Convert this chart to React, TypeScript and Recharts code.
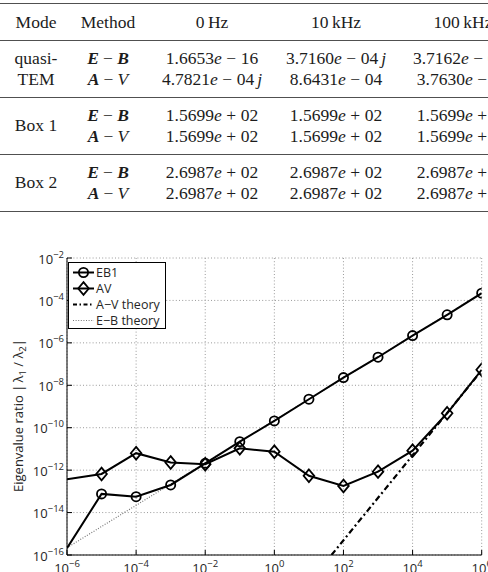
import React from "react";
import { LineChart, Line, XAxis, YAxis, CartesianGrid, Legend } from "recharts";

// ---------------- table data ----------------
const tableHeaders = ["Mode", "Method", "0\u2009Hz", "10\u2009kHz", "100\u2009kHz"];
const modeLabels = [["quasi-", "TEM"], ["Box 1"], ["Box 2"]];
const methodLabels = ["E-B", "A-V"];
const quasiTemEB = ["1.6653e-16", "3.7160e-04j", "3.7162e-03j"];
const quasiTemAV = ["4.7821e-04j", "8.6431e-04", "3.7630e-03"];
const box1EB = ["1.5699e+02", "1.5699e+02", "1.5699e+02"];
const box1AV = ["1.5699e+02", "1.5699e+02", "1.5699e+02"];
const box2EB = ["2.6987e+02", "2.6987e+02", "2.6987e+02"];
const box2AV = ["2.6987e+02", "2.6987e+02", "2.6987e+02"];

// ---------------- chart data ----------------
const freqs = [1e-6, 1e-5, 1e-4, 1e-3, 1e-2, 1e-1, 1e0, 1e1, 1e2, 1e3, 1e4, 1e5, 1e6];
const eb1Ratio = [2.1e-16, 7.6e-14, 5.6e-14, 2.0e-13, 2.1e-12, 2.2e-11, 2.1e-10, 2.2e-9, 2.3e-8, 2.1e-7, 2.2e-6, 2.1e-5, 2.2e-4];
const avRatio = [3.7e-13, 6.6e-13, 6.3e-12, 2.3e-12, 1.9e-12, 1.07e-11, 7.4e-12, 5.4e-13, 1.8e-13, 8.5e-13, 8.3e-12, 4.8e-10, 5.4e-8];
const avTheoryFreqs = [45, 1e6];
const avTheoryRatio = [1e-16, 5.0e-8];
const ebTheoryFreqs = [1e-6, 1e6];
const ebTheoryRatio = [2.2e-16, 2.2e-4];
const xTicks = [1e-6, 1e-4, 1e-2, 1e0, 1e2, 1e4, 1e6];
const yTicks = [1e-16, 1e-14, 1e-12, 1e-10, 1e-8, 1e-6, 1e-4, 1e-2];
const seriesNames = ["EB1", "AV", "A\u2212V theory", "E\u2212B theory"];

const toRows = (xs: number[], ys: number[]) => xs.map((f, i) => ({ freq: f, ratio: ys[i] }));
const eb1Data = toRows(freqs, eb1Ratio);
const avData = toRows(freqs, avRatio);
const avTheoryData = toRows(avTheoryFreqs, avTheoryRatio);
const ebTheoryData = toRows(ebTheoryFreqs, ebTheoryRatio);

const X_DOMAIN: [number, number] = [1e-6, 1e6];
const Y_DOMAIN: [number, number] = [1e-16, 1e-2];

const SANS = "'Open Sans', 'DejaVu Sans', sans-serif";
const SERIF = "'Liberation Serif', 'DejaVu Serif', serif";
const TXT = "#262626";

const fmtExp = (v: number) => {
  const e = Math.round(Math.log10(v));
  return e < 0 ? "\u2212" + Math.abs(e) : String(e);
};

// ---------------- table rendering ----------------
const colWidths = [72, 72, 136, 112, 142];

function MathNum({ s }: { s: string }) {
  const m = s.match(/^([\d.]+)e([+-])(\d+)(j?)$/);
  if (!m) return <span>{s}</span>;
  const [, mant, sign, exp, j] = m;
  return (
    <span style={{ whiteSpace: "nowrap" }}>
      {mant}
      <i>e</i>
      <span style={{ padding: "0 0.26em" }}>{sign === "-" ? "\u2212" : "+"}</span>
      {exp}
      {j ? <i style={{ marginLeft: "0.17em" }}>j</i> : null}
    </span>
  );
}

function MethodLabel({ s }: { s: string }) {
  const [a, b] = s.split("-");
  const st = (c: string): React.CSSProperties =>
    c === "V" ? { fontStyle: "italic" } : { fontStyle: "italic", fontWeight: "bold" };
  return (
    <span style={{ whiteSpace: "nowrap" }}>
      <span style={st(a)}>{a}</span>
      <span style={{ padding: "0 0.24em" }}>{"\u2212"}</span>
      <span style={st(b)}>{b}</span>
    </span>
  );
}

const groups = [
  { mode: modeLabels[0], rows: [quasiTemEB, quasiTemAV] },
  { mode: modeLabels[1], rows: [box1EB, box1AV] },
  { mode: modeLabels[2], rows: [box2EB, box2AV] },
];

const RULE = "1.6px solid #505050";

function Table() {
  const cell = (w: number, content: React.ReactNode, key: string) => (
    <div
      key={key}
      style={{
        width: w,
        flex: "none",
        display: "flex",
        flexDirection: "column",
        alignItems: "center",
        justifyContent: "center",
        lineHeight: "20.5px",
      }}
    >
      {content}
    </div>
  );
  return (
    <div style={{ position: "absolute", left: 0, top: 0, width: 560, fontFamily: SERIF, fontSize: 17.5, color: "#1c1c1c" }}>
      <div style={{ position: "absolute", left: 0, top: 3, width: 560, borderTop: RULE }} />
      <div style={{ position: "absolute", left: 0, top: 4, height: 36, display: "flex" }}>
        {tableHeaders.map((h, i) => cell(colWidths[i], <span>{h}</span>, "h" + i))}
      </div>
      {groups.map((g, gi) => (
        <div
          key={gi}
          style={{
            position: "absolute",
            left: 0,
            top: 39.5 + gi * 57,
            height: 57,
            width: 560,
            borderTop: RULE,
            display: "flex",
            boxSizing: "border-box",
          }}
        >
          {cell(colWidths[0], g.mode.map((t, k) => <div key={k}>{t}</div>), "m")}
          {cell(colWidths[1], methodLabels.map((t, k) => <div key={k}><MethodLabel s={t} /></div>), "me")}
          {[0, 1, 2].map((c) =>
            cell(
              colWidths[c + 2],
              g.rows.map((r, k) => (
                <div key={k}>
                  <MathNum s={r[c]} />
                </div>
              )),
              "c" + c
            )
          )}
        </div>
      ))}
      <div style={{ position: "absolute", left: 0, top: 210.5, width: 560, borderTop: RULE }} />
    </div>
  );
}

// ---------------- chart pieces ----------------
const LeftTick = (props: any) => {
  const { x, y, payload } = props;
  return (
    <g>
      <line x1={x} x2={x + 5} y1={y} y2={y} stroke="#000" strokeWidth={1} />
      <text x={x - 3} y={y + 5.5} textAnchor="end" fontSize={13} fill={TXT} fontFamily={SANS}>
        10
        <tspan dy={-6} fontSize={9.5}>
          {fmtExp(payload.value)}
        </tspan>
      </text>
    </g>
  );
};

const RightTick = (props: any) => {
  const { x, y } = props;
  return <line x1={x} x2={x - 5} y1={y} y2={y} stroke="#000" strokeWidth={1} />;
};

const TopTick = (props: any) => {
  const { x, y } = props;
  return <line x1={x} x2={x} y1={y} y2={y + 5} stroke="#000" strokeWidth={1} />;
};

const BottomTick = (props: any) => {
  const { x, y, payload } = props;
  return (
    <g>
      <line x1={x} x2={x} y1={y} y2={y - 5} stroke="#000" strokeWidth={1} />
      <text x={x} y={y + 18} textAnchor="middle" fontSize={13} fill={TXT} fontFamily={SANS}>
        10
        <tspan dy={-6} fontSize={9.5}>
          {fmtExp(payload.value)}
        </tspan>
      </text>
    </g>
  );
};

const YLabel = (props: any) => {
  const vb = props.viewBox || { x: 0, y: 18, width: 67, height: 297 };
  const cy = vb.y + vb.height / 2 + 9;
  const cx = 23;
  return (
    <text
      x={cx}
      y={cy}
      transform={`rotate(-90 ${cx} ${cy})`}
      textAnchor="middle"
      fontSize={13}
      fill={TXT}
      fontFamily={SANS}
    >
      Eigenvalue ratio |{"\u2009"}λ
      <tspan dy={3} fontSize={9.5}>1</tspan>
      <tspan dy={-3}> / λ</tspan>
      <tspan dy={3} fontSize={9.5}>2</tspan>
      <tspan dy={-3}>|</tspan>
    </text>
  );
};

const circleShape = (cx: number, cy: number, key?: string) => (
  <circle key={key} cx={cx} cy={cy} r={4.6} fill="none" stroke="#000" strokeWidth={1.8} />
);
const diamondShape = (cx: number, cy: number, key?: string) => (
  <path
    key={key}
    d={`M${cx},${cy - 6.3} L${cx + 5.3},${cy} L${cx},${cy + 6.3} L${cx - 5.3},${cy} Z`}
    fill="none"
    stroke="#000"
    strokeWidth={1.8}
  />
);

const CircleDot = (p: any) => {
  const key = `c-${p.index}`;
  if (p.payload.freq <= X_DOMAIN[0]) return <g key={key} />;
  return circleShape(p.cx, p.cy, key);
};
const DiamondDot = (p: any) => {
  const key = `d-${p.index}`;
  if (p.payload.freq <= X_DOMAIN[0]) return <g key={key} />;
  return diamondShape(p.cx, p.cy, key);
};

const legendItems = [
  { name: seriesNames[0], dash: undefined, color: "#000", width: 2, marker: "circle" },
  { name: seriesNames[1], dash: undefined, color: "#000", width: 2, marker: "diamond" },
  { name: seriesNames[2], dash: "4 2.5 1.5 2.5", color: "#000", width: 2, marker: "" },
  { name: seriesNames[3], dash: "1 1.6", color: "#777", width: 1.2, marker: "" },
];

const LegendBox = () => (
  <svg width={98} height={67} style={{ display: "block" }}>
    <rect x={0.5} y={0.5} width={97} height={66} fill="#fff" stroke="#000" strokeWidth={1} />
    {legendItems.map((it, i) => {
      const y = 10.5 + i * 16;
      return (
        <g key={i}>
          <line x1={5} x2={26} y1={y} y2={y} stroke={it.color} strokeWidth={it.width} strokeDasharray={it.dash} />
          {it.marker === "circle" ? circleShape(15.5, y) : null}
          {it.marker === "diamond" ? diamondShape(15.5, y) : null}
          <text x={28} y={y + 4.5} fontSize={12.5} fill={TXT} fontFamily={SANS}>
            {it.name}
          </text>
        </g>
      );
    })}
  </svg>
);

function Chart() {
  return (
    <div style={{ position: "absolute", left: 0, top: 240 }}>
      <LineChart width={500} height={345} margin={{ top: 18, right: 18.3, bottom: 0, left: 0 }} style={{ fontFamily: SANS }}>
        <CartesianGrid xAxisId="b" yAxisId="l" stroke="#9a9a9a" strokeDasharray="1 2.2" strokeWidth={1} />
        <XAxis
          xAxisId="b"
          dataKey="freq"
          type="number"
          scale="log"
          domain={X_DOMAIN}
          ticks={xTicks}
          allowDataOverflow
          height={30}
          tickSize={0}
          tickMargin={0}
          tickLine={false}
          tick={<BottomTick />}
          axisLine={{ stroke: "#000", strokeWidth: 1 }}
          interval={0}
        />
        <XAxis
          xAxisId="t"
          orientation="top"
          dataKey="freq"
          type="number"
          scale="log"
          domain={X_DOMAIN}
          ticks={xTicks}
          allowDataOverflow
          height={0}
          tickSize={0}
          tickMargin={0}
          tickLine={false}
          tick={<TopTick />}
          axisLine={{ stroke: "#000", strokeWidth: 1 }}
          interval={0}
        />
        <YAxis
          yAxisId="l"
          type="number"
          scale="log"
          domain={Y_DOMAIN}
          ticks={yTicks}
          allowDataOverflow
          width={67}
          tickSize={0}
          tickMargin={0}
          tickLine={false}
          tick={<LeftTick />}
          axisLine={{ stroke: "#000", strokeWidth: 1 }}
          interval={0}
          label={<YLabel />}
        />
        <YAxis
          yAxisId="r"
          orientation="right"
          type="number"
          scale="log"
          domain={Y_DOMAIN}
          ticks={yTicks}
          allowDataOverflow
          width={0}
          tickSize={0}
          tickMargin={0}
          tickLine={false}
          tick={<RightTick />}
          axisLine={{ stroke: "#000", strokeWidth: 1 }}
          interval={0}
        />
        <Line
          xAxisId="b"
          yAxisId="l"
          data={ebTheoryData}
          dataKey="ratio"
          name={seriesNames[3]}
          stroke="#777"
          strokeWidth={1.2}
          strokeDasharray="1 1.6"
          dot={false}
          isAnimationActive={false}
        />
        <Line
          xAxisId="b"
          yAxisId="l"
          data={avTheoryData}
          dataKey="ratio"
          name={seriesNames[2]}
          stroke="#000"
          strokeWidth={2.2}
          strokeDasharray="6 3 2 3"
          dot={false}
          isAnimationActive={false}
        />
        <Line
          xAxisId="b"
          yAxisId="l"
          data={eb1Data}
          dataKey="ratio"
          name={seriesNames[0]}
          stroke="#000"
          strokeWidth={2}
          dot={(p: any) => <CircleDot key={`c-${p.index}`} {...p} />}
          isAnimationActive={false}
        />
        <Line
          xAxisId="b"
          yAxisId="l"
          data={avData}
          dataKey="ratio"
          name={seriesNames[1]}
          stroke="#000"
          strokeWidth={2}
          dot={(p: any) => <DiamondDot key={`d-${p.index}`} {...p} />}
          isAnimationActive={false}
        />
        <Legend
          layout="vertical"
          align="center"
          verticalAlign="middle"
          content={<LegendBox />}
          wrapperStyle={{ position: "absolute", left: 68.3, top: 21.5, width: 98, height: 67 }}
        />
      </LineChart>
    </div>
  );
}

export default function App() {
  return (
    <div
      style={{
        position: "absolute",
        left: 0,
        top: 0,
        width: 488,
        height: 572,
        overflow: "hidden",
        background: "#fff",
      }}
    >
      <Table />
      <Chart />
    </div>
  );
}
